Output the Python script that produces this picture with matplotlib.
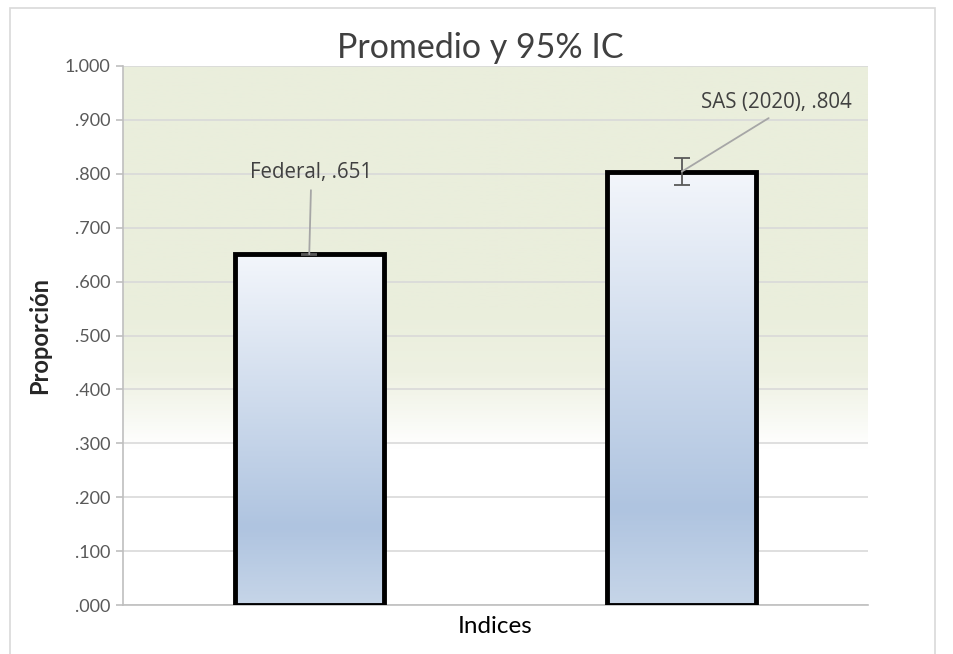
import numpy as np
import matplotlib
matplotlib.use("Agg")
import matplotlib.pyplot as plt
from matplotlib.colors import LinearSegmentedColormap
from matplotlib.patches import Rectangle

categories = ["Federal", "SAS (2020)"]
values = [0.651, 0.804]
ci_half = [0.001, 0.025]
label_text = ["Federal, .651", "SAS (2020), .804"]
yticks = [0.0, 0.1, 0.2, 0.3, 0.4, 0.5, 0.6, 0.7, 0.8, 0.9, 1.0]
ytick_labels = [".000", ".100", ".200", ".300", ".400", ".500", ".600", ".700", ".800", ".900", "1.000"]

plt.rcParams['font.family'] = ['Lato', 'DejaVu Sans']

fig = plt.figure(figsize=(9.54, 6.54), dpi=100)
fig.patch.set_facecolor("white")
# outer chart border
fig.add_artist(Rectangle((10/954, -0.01), 925/954, 1 - 8/654 + 0.01, transform=fig.transFigure,
                         fill=False, edgecolor="#D9D9D9", linewidth=1.2))

ax = fig.add_axes([123/954, 1 - 605/654, 745/954, 539/654])
ax.set_xlim(-0.5, 1.5)
ax.set_ylim(0, 1.0)

# plot-area background gradient (green top -> white)
grad = np.linspace(0, 1, 400)  # 0 bottom -> 1 top
bg_cmap = LinearSegmentedColormap.from_list("bg", [(0, "#FFFFFF"), (0.29, "#FFFFFF"), (0.43, "#EEF1E2"), (0.55, "#EAEEDC"), (1, "#EAEEDC")])
ax.imshow(grad[:, None], aspect="auto", cmap=bg_cmap, extent=(-0.5, 1.5, 0, 1), origin="lower", zorder=0, vmin=0, vmax=1)

ax.yaxis.grid(True, color="#D9D9D9", linewidth=1.2, zorder=1)
ax.set_axisbelow(True)

bar_cmap = LinearSegmentedColormap.from_list("bar", [(0, "#C6D5E8"), (0.22, "#AFC4E0"), (1, "#F3F6FB")])
bars = ax.bar(range(len(categories)), values, width=0.4, facecolor="none", edgecolor="black", linewidth=3.5, zorder=4)
for b in bars:
    x0, w, h = b.get_x(), b.get_width(), b.get_height()
    im = ax.imshow(grad[:, None], aspect="auto", cmap=bar_cmap, extent=(x0, x0 + w, 0, h), origin="lower", zorder=3, vmin=0, vmax=1)
    im.set_clip_path(b)

ax.errorbar(range(len(categories)), values, yerr=ci_half, fmt="none", ecolor="#595959", elinewidth=1.3, capsize=6, capthick=1.3, zorder=5)

# data labels with leader lines
label_pos = [(0.005, 0.802), (1.255, 0.932)]
for i, (lx, ly) in enumerate(label_pos):
    ax.annotate(label_text[i], xy=(i, values[i]), xytext=(lx, ly), textcoords="data",
                ha="center", va="center", fontsize=14.8, color="#404040",
                family=["Open Sans", "DejaVu Sans"],
                arrowprops=dict(arrowstyle="-", color="#A6A6A6", lw=1.3, shrinkA=3, shrinkB=0,
                                relpos=(0.5, 0.0)), zorder=6)

ax.set_xticks([])
ax.set_yticks(yticks)
ax.set_yticklabels(ytick_labels, fontsize=13, color="#595959")
ax.tick_params(axis="y", length=5, color="#BFBFBF", width=1.2, pad=4)
for s in ["top", "right"]:
    ax.spines[s].set_visible(False)
ax.spines["left"].set_color("#BFBFBF")
ax.spines["left"].set_linewidth(1.2)
ax.spines["bottom"].set_color("#BFBFBF")
ax.spines["bottom"].set_linewidth(1.2)

ax.set_ylabel("Proporción", fontsize=17, fontweight="bold", color="#262626", labelpad=10)
ax.set_xlabel("Indices", fontsize=17.5, color="#000000", labelpad=8)
fig.text(480/954, 1 - 48/654, "Promedio y 95% IC", ha="center", va="center", fontsize=24.5, color="#404040")

fig.savefig("out.png", dpi=100)
